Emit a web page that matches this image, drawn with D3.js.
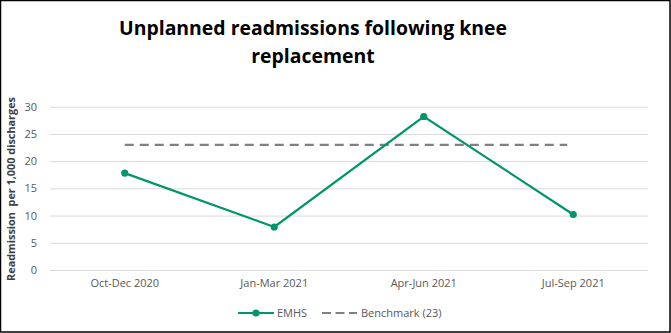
<!DOCTYPE html>
<html><head><meta charset="utf-8">
<script src="https://cdn.jsdelivr.net/npm/d3@7"></script>
<style>body{margin:0;background:#fff}svg{display:block}</style>
</head><body>
<svg id="c" width="671" height="333"></svg>
<script>
const categories = ["Oct-Dec 2020", "Jan-Mar 2021", "Apr-Jun 2021", "Jul-Sep 2021"];
const emhsValues = [17.8, 7.9, 28.2, 10.2];
const benchmarkValue = 23;
const yTicks = [0, 5, 10, 15, 20, 25, 30];
const titleLines = ["Unplanned readmissions following knee", "replacement"];
const yLabel = "Readmission  per 1,000 discharges";
const legendLabels = ["EMHS", "Benchmark (23)"];

const svg = d3.select("#c");
const W = 671, H = 333;
const green = "#00956a", grey = "#808080";
const font = "'Open Sans', 'DejaVu Sans', sans-serif";

svg.append("rect").attr("x", 0.5).attr("y", 0.5).attr("width", W - 1.5).attr("height", H - 1.5)
  .attr("fill", "#fff").attr("stroke", "#000").attr("stroke-width", 1.5);

const x = d3.scaleBand().domain(categories).range([50, 648]);
const y = d3.scaleLinear().domain([0, 30]).range([270, 106.7]);

const yAxis = d3.axisLeft(y).tickValues(yTicks).tickSize(-(648 - 50)).tickPadding(13);
const gy = svg.append("g").attr("transform", "translate(50,0)").call(yAxis);
gy.select(".domain").remove();
gy.selectAll(".tick line").attr("stroke", "#d9d9d9").attr("stroke-width", 1);
gy.selectAll(".tick text").attr("fill", "#595959").style("font-family", font).style("font-size", "11px");

const xAxis = d3.axisBottom(x).tickSize(0).tickPadding(9);
const gx = svg.append("g").attr("transform", "translate(0,270)").call(xAxis);
gx.select(".domain").remove();
gx.selectAll(".tick text").attr("fill", "#595959").style("font-family", font).style("font-size", "11px");

const cx = d => x(d) + x.bandwidth() / 2;

svg.append("line")
  .attr("x1", cx(categories[0])).attr("x2", cx(categories[categories.length - 1]) - 6)
  .attr("y1", y(benchmarkValue)).attr("y2", y(benchmarkValue))
  .attr("stroke", grey).attr("stroke-width", 2.2).attr("stroke-dasharray", "9,6");

const line = d3.line().x((d, i) => cx(categories[i])).y(d => y(d));
svg.append("path").datum(emhsValues).attr("d", line)
  .attr("fill", "none").attr("stroke", green).attr("stroke-width", 2.2);
svg.selectAll(".pt").data(emhsValues).join("circle")
  .attr("cx", (d, i) => cx(categories[i])).attr("cy", d => y(d)).attr("r", 3.6).attr("fill", green);

const t = svg.append("text").attr("text-anchor", "middle").attr("fill", "#000")
  .style("font-family", font).style("font-weight", "bold").style("font-size", "20px");
t.selectAll("tspan").data(titleLines).join("tspan")
  .attr("x", 313).attr("y", (d, i) => 35 + i * 28).text(d => d);
const tl = t.select("tspan").node().getComputedTextLength();
t.style("font-size", (20 * 388 / tl).toFixed(2) + "px");

const yl = svg.append("text").attr("transform", "translate(15,189) rotate(-90)")
  .attr("text-anchor", "middle").attr("fill", "#404040").style("white-space", "pre")
  .style("font-family", font).style("font-weight", "bold").style("font-size", "11px").text(yLabel);
const yll = yl.node().getComputedTextLength();
yl.style("font-size", (11 * 184 / yll).toFixed(2) + "px");

const ly = 313;
svg.append("line").attr("x1", 238).attr("x2", 274).attr("y1", ly).attr("y2", ly)
  .attr("stroke", green).attr("stroke-width", 2.2);
svg.append("circle").attr("cx", 256).attr("cy", ly).attr("r", 3.6).attr("fill", green);
svg.append("text").attr("x", 277).attr("y", ly + 4).attr("fill", "#595959")
  .style("font-family", font).style("font-size", "11px").text(legendLabels[0]);
svg.append("line").attr("x1", 322).attr("x2", 357).attr("y1", ly).attr("y2", ly)
  .attr("stroke", grey).attr("stroke-width", 2.2).attr("stroke-dasharray", "9,4.5");
svg.append("text").attr("x", 361).attr("y", ly + 4).attr("fill", "#595959")
  .style("font-family", font).style("font-size", "11px").text(legendLabels[1]);
</script>
</body></html>
